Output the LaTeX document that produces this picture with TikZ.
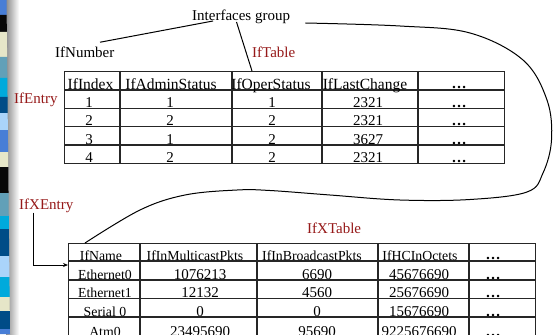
\documentclass[tikz,border=0pt]{standalone}
\usepackage{fontspec}
\setmainfont{Liberation Serif}
\usetikzlibrary{arrows.meta}

\definecolor{sBlue}{RGB}{72,126,214}
\definecolor{sBlack}{RGB}{8,8,8}
\definecolor{sBeige}{RGB}{230,230,200}
\definecolor{sTeal}{RGB}{98,160,184}
\definecolor{sCyan}{RGB}{0,170,220}
\definecolor{sNavy}{RGB}{0,76,135}
\definecolor{sSky}{RGB}{170,212,250}
\definecolor{lblred}{RGB}{150,25,25}

\begin{document}
\begin{tikzpicture}[x=1pt,y=-1pt,
  lbl/.style={anchor=base west, inner sep=0pt, font=\fontsize{15}{15}\selectfont},
  redlbl/.style={lbl, text=lblred},
  hd/.style={anchor=base, inner sep=0pt, font=\fontsize{15.5}{15.5}\selectfont},
  hdsmall/.style={anchor=base, inner sep=0pt, font=\fontsize{13.8}{13.8}\selectfont},
  val/.style={anchor=base, inner sep=0pt, font=\fontsize{15}{15}\selectfont},
  dotcell/.style={anchor=base, inner sep=0pt, font=\fontsize{15}{15}\selectfont\bfseries},
  tblline/.style={line width=1.1pt, draw=black!85},
  tblbox/.style={tblline, draw, anchor=north west, inner sep=0pt},
  conn/.style={line width=1pt, draw=black}]

\useasboundingbox (0,0) rectangle (553,334);
\clip (0,0) rectangle (553,334);
\fill[white] (0,0) rectangle (553,334);

% slide border: coloured blocks with a soft shadow
\shade[left color=black!45, right color=white] (6,0) rectangle (19,334);
\foreach \a/\b/\c in {0/15/sBlue, 15/32/sBlack, 32/57/sBeige, 57/78/sTeal,
  78/97/sCyan, 97/113/sNavy, 113/130/sSky, 130/152/sBlue, 152/167/sBeige,
  167/193/sBlack, 193/216/sTeal, 216/229/sCyan, 229/256/sNavy, 256/277/sSky,
  277/297/sCyan, 297/311/sBeige, 311/329/sNavy, 329/334/sBlue}{
  \fill[\c] (0,\a) -- (6.5+3.5*\a/334,\a) -- (6.5+3.5*\b/334,\b) -- (0,\b) -- cycle;
}

% labels
\node[lbl] (grp) at (192,20.5) {Interfaces group};
\node[lbl] (num) at (55,58) {IfNumber};
\node[redlbl] (tbl1) at (252,58) {IfTable};
\node[redlbl] (ent) at (14,103) {IfEntry};
\node[redlbl] (xent) at (19,209.5) {IfXEntry};
\node[redlbl] (tbl2) at (307,233) {IfXTable};

% ifTable
\node[tblbox, minimum width=440pt, minimum height=92pt] (tabA) at (64,71) {};
\draw[tblline] foreach \x in {120,232,322,418} {(\x,71) -- (\x,163)};
\draw[tblline] foreach \y in {90,108.3,126.7,145} {(64,\y) -- (504,\y)};

\node[hd] (hA1) at (90.5,89) {IfIndex};
\node[hd] (hA2) at (171,89) {IfAdminStatus};
\node[hd] (hA3) at (271,89) {IfOperStatus};
\node[hd] (hA4) at (365,89) {IfLastChange};
\node[dotcell] (hA5) at (459,88.5) {…};
\foreach \r/\y/\a/\b/\c/\d in {1/107.3/1/1/1/2321, 2/125.7/2/2/2/2321,
  3/144/3/1/2/3627, 4/162.3/4/2/2/2321}{
  \node[val] (a\r1) at (89,\y) {\a};
  \node[val] (a\r2) at (170,\y) {\b};
  \node[val] (a\r3) at (272,\y) {\c};
  \node[val] (a\r4) at (368,\y) {\d};
  \node[dotcell] (a\r5) at (459,\y) {…};
}

% ifXTable
\node[tblbox, minimum width=467pt, minimum height=95pt] (tabB) at (68,243) {};
\draw[tblline] foreach \x in {140,257,378,469} {(\x,243) -- (\x,338)};
\draw[tblline] foreach \y in {261,280,298.5,317} {(68,\y) -- (535,\y)};

\node[hdsmall] (hB1) at (101,260) {IfName};
\node[hdsmall] (hB2) at (195,260) {IfInMulticastPkts};
\node[hdsmall] (hB3) at (312,260) {IfInBroadcastPkts};
\node[hdsmall] (hB4) at (420,260) {IfHCInOctets};
\node[dotcell] (hB5) at (493,259.5) {…};
\foreach \r/\y/\n/\a/\b/\c in {1/279/Ethernet0/1076213/6690/45676690,
  2/297.5/Ethernet1/12132/4560/25676690, 3/316/Serial 0/0/0/15676690,
  4/336/Atm0/23495690/95690/9225676690}{
  \node[hdsmall] (b\r1) at (105,\y) {\n};
  \node[val] (b\r2) at (200,\y) {\a};
  \node[val] (b\r3) at (317,\y) {\b};
  \node[val] (b\r4) at (419,\y) {\c};
  \node[dotcell] (b\r5) at (493,\y) {…};
}

% connectors
\draw[conn] ([xshift=45pt,yshift=5pt]num.north west) -- ([xshift=21pt,yshift=-0.5pt]grp.base west);
\draw[conn] ([xshift=44.5pt,yshift=-1.5pt]grp.base west) -- ([xshift=188pt]tabA.north west);

\coordinate (cs) at ([xshift=15pt,yshift=-2.5pt]grp.base east);
\coordinate (ce) at ([xshift=17pt]tabB.north west);
\draw[conn] plot[smooth, tension=0.6] coordinates {(cs) (400,26) (470,33) (523,60)
  (547,100) (551.5,140) (543,173) (527,192) (470,199.5) (400,200) (330,195)
  (270,190.5) (237,190) (185,195) (140,210) (ce)};

\draw[line width=0.9pt, -{Stealth[length=5pt,width=4pt]}]
  ([xshift=14pt,yshift=-3pt]xent.base west) |- ([yshift=-22pt]tabB.north west);
\end{tikzpicture}
\end{document}
